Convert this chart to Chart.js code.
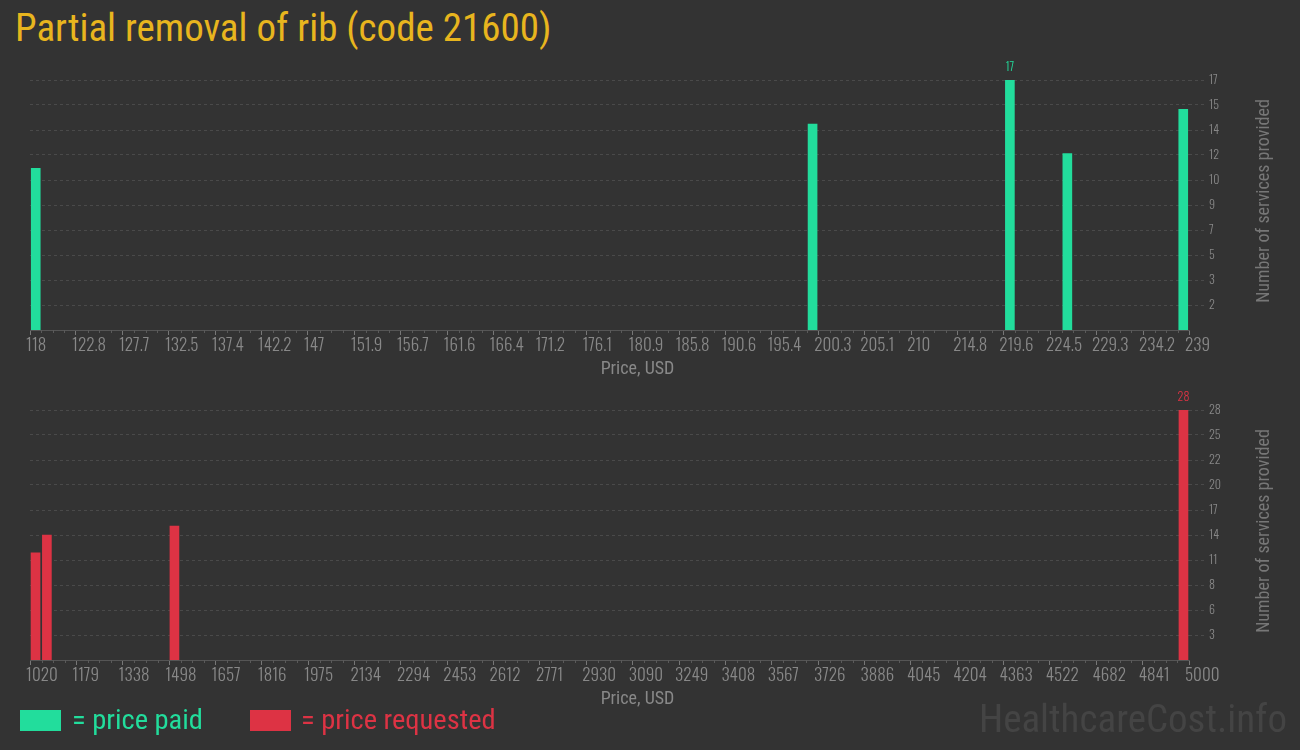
<!DOCTYPE html>
<html>
<head>
<meta charset="utf-8">
<script src="https://cdn.jsdelivr.net/npm/chart.js@4.4.0/dist/chart.umd.min.js"></script>
<style>
  body { margin: 0; background: #333; width: 1300px; height: 750px; overflow: hidden; position: relative; font-family: 'Roboto Condensed', Roboto, sans-serif; }
  .title { position: absolute; left: 15px; top: 5px; color: #e8b51e; font-size: 39px; white-space: nowrap; }
  canvas { position: absolute; left: 0; }
  #paidChart { top: 50px; }
  #requestedChart { top: 380px; }
  .swatch { position: absolute; top: 710px; width: 41px; height: 21px; }
  .ltext { position: absolute; top: 704px; font-size: 28.5px; line-height: 32px; white-space: nowrap; }
  .mark { position: absolute; right: 13px; top: 696px; font-size: 39px; line-height: 46px; color: #444; white-space: nowrap; }
</style>
</head>
<body>
<div class="title">Partial removal of rib (code 21600)</div>
<canvas id="paidChart" width="1300" height="330"></canvas>
<canvas id="requestedChart" width="1300" height="330"></canvas>
<div class="swatch" style="left:20px;background:#22dd9c"></div>
<div class="ltext" style="left:72px;color:#22dd9c">= price paid</div>
<div class="swatch" style="left:250px;background:#dd3344"></div>
<div class="ltext" style="left:301px;color:#dd3344">= price requested</div>
<div class="mark">HealthcareCost.info</div>
<script>
// price paid (top chart)
const paidPrices = [118.6, 199.7, 220.3, 226.3, 238.4];
const paidCounts = [11, 14, 17, 12, 15];
const paidXTicks = [118, 122.8, 127.7, 132.5, 137.4, 142.2, 147, 151.9, 156.7, 161.6, 166.4, 171.2, 176.1,
  180.9, 185.8, 190.6, 195.4, 200.3, 205.1, 210, 214.8, 219.6, 224.5, 229.3, 234.2, 239];
const paidYTicks = [1.7, 3.4, 5.1, 6.8, 8.5, 10.2, 11.9, 13.6, 15.3, 17];

// price requested (bottom chart)
const requestedPrices = [1039, 1078, 1516, 4981];
const requestedCounts = [12, 14, 15, 28];
const requestedXTicks = [1020, 1179, 1338, 1498, 1657, 1816, 1975, 2134, 2294, 2453, 2612, 2771, 2930,
  3090, 3249, 3408, 3567, 3726, 3886, 4045, 4204, 4363, 4522, 4682, 4841, 5000];
const requestedYTicks = [2.8, 5.6, 8.4, 11.2, 14, 16.8, 19.6, 22.4, 25.2, 28];

const GREEN = '#22dd9c';
const RED = '#dd3344';
const TICK_FONT = { family: 'Oswald', size: 17, weight: 300 };

// titles, minor ticks and the value label over the tallest bar
const extras = {
  id: 'extras',
  afterDraw(chart) {
    const { ctx, chartArea, scales: { x } } = chart;
    const ds = chart.data.datasets[0];
    ctx.save();
    ctx.strokeStyle = '#5a5a5a';
    ctx.lineWidth = 1;
    const t = x.ticks;
    for (let i = 0; i < t.length - 1; i++) {
      for (let k = 1; k < 4; k++) {
        const px = Math.round(x.getPixelForValue(t[i].value + (t[i + 1].value - t[i].value) * k / 4)) + 0.5;
        ctx.beginPath();
        ctx.moveTo(px, chartArea.bottom);
        ctx.lineTo(px, chartArea.bottom + 3);
        ctx.stroke();
      }
    }
    ctx.textAlign = 'center';
    ctx.textBaseline = 'middle';
    ctx.fillStyle = '#888';
    ctx.font = '18px "Roboto Condensed"';
    ctx.fillText('Price, USD', (chartArea.left + chartArea.right) / 2 + 28, chartArea.bottom + 39);
    ctx.save();
    ctx.translate(1264, (chartArea.top + chartArea.bottom) / 2 - 4);
    ctx.rotate(-Math.PI / 2);
    ctx.fillStyle = '#777';
    ctx.fillText('Number of services provided', 0, 0);
    ctx.restore();

    const meta = chart.getDatasetMeta(0);
    let mi = 0;
    ds.data.forEach((d, i) => { if (d.y > ds.data[mi].y) mi = i; });
    const bar = meta.data[mi];
    ctx.fillStyle = ds.backgroundColor;
    ctx.font = '300 12px Oswald';
    ctx.fillText(String(ds.data[mi].y), bar.x, bar.y - 13);
    ctx.restore();
  }
};

function makeChart(id, prices, counts, xTicks, yTicks, color) {
  return new Chart(document.getElementById(id), {
    type: 'bar',
    data: {
      datasets: [{
        data: prices.map((p, i) => ({ x: p, y: counts[i] })),
        backgroundColor: color,
        barThickness: 9,
        grouped: false
      }]
    },
    options: {
      responsive: false,
      animation: false,
      layout: { padding: { left: 30, top: 30, right: 0, bottom: 0 } },
      plugins: { legend: { display: false }, tooltip: { enabled: false } },
      scales: {
        x: {
          type: 'linear',
          offset: false,
          min: xTicks[0],
          max: xTicks[xTicks.length - 1],
          afterBuildTicks: (s) => { s.ticks = xTicks.map(v => ({ value: v })); },
          afterFit: (s) => { s.height = 50; },
          border: { display: true, color: '#555' },
          grid: { offset: false, drawOnChartArea: false, drawTicks: true, tickLength: 5, tickColor: '#777' },
          ticks: {
            color: '#888', font: TICK_FONT, autoSkip: false, maxRotation: 0,
            align: 'start', labelOffset: -4, padding: 1,
            callback: (v) => String(v)
          }
        },
        y: {
          position: 'right',
          min: 0,
          max: yTicks[yTicks.length - 1],
          afterBuildTicks: (s) => { s.ticks = yTicks.map(v => ({ value: v })); },
          afterFit: (s) => { s.width = 111; },
          border: { display: false, dash: [3, 3] },
          grid: {
            color: '#4a4a4a', tickBorderDash: [3, 3],
            tickColor: '#4a4a4a', tickLength: 16
          },
          ticks: {
            color: '#888', font: { family: 'Oswald', size: 12, weight: 300 }, padding: 4,
            callback: (v) => String(Math.round(v))
          }
        }
      }
    },
    plugins: [extras]
  });
}

makeChart('paidChart', paidPrices, paidCounts, paidXTicks, paidYTicks, GREEN);
makeChart('requestedChart', requestedPrices, requestedCounts, requestedXTicks, requestedYTicks, RED);
</script>
</body>
</html>
